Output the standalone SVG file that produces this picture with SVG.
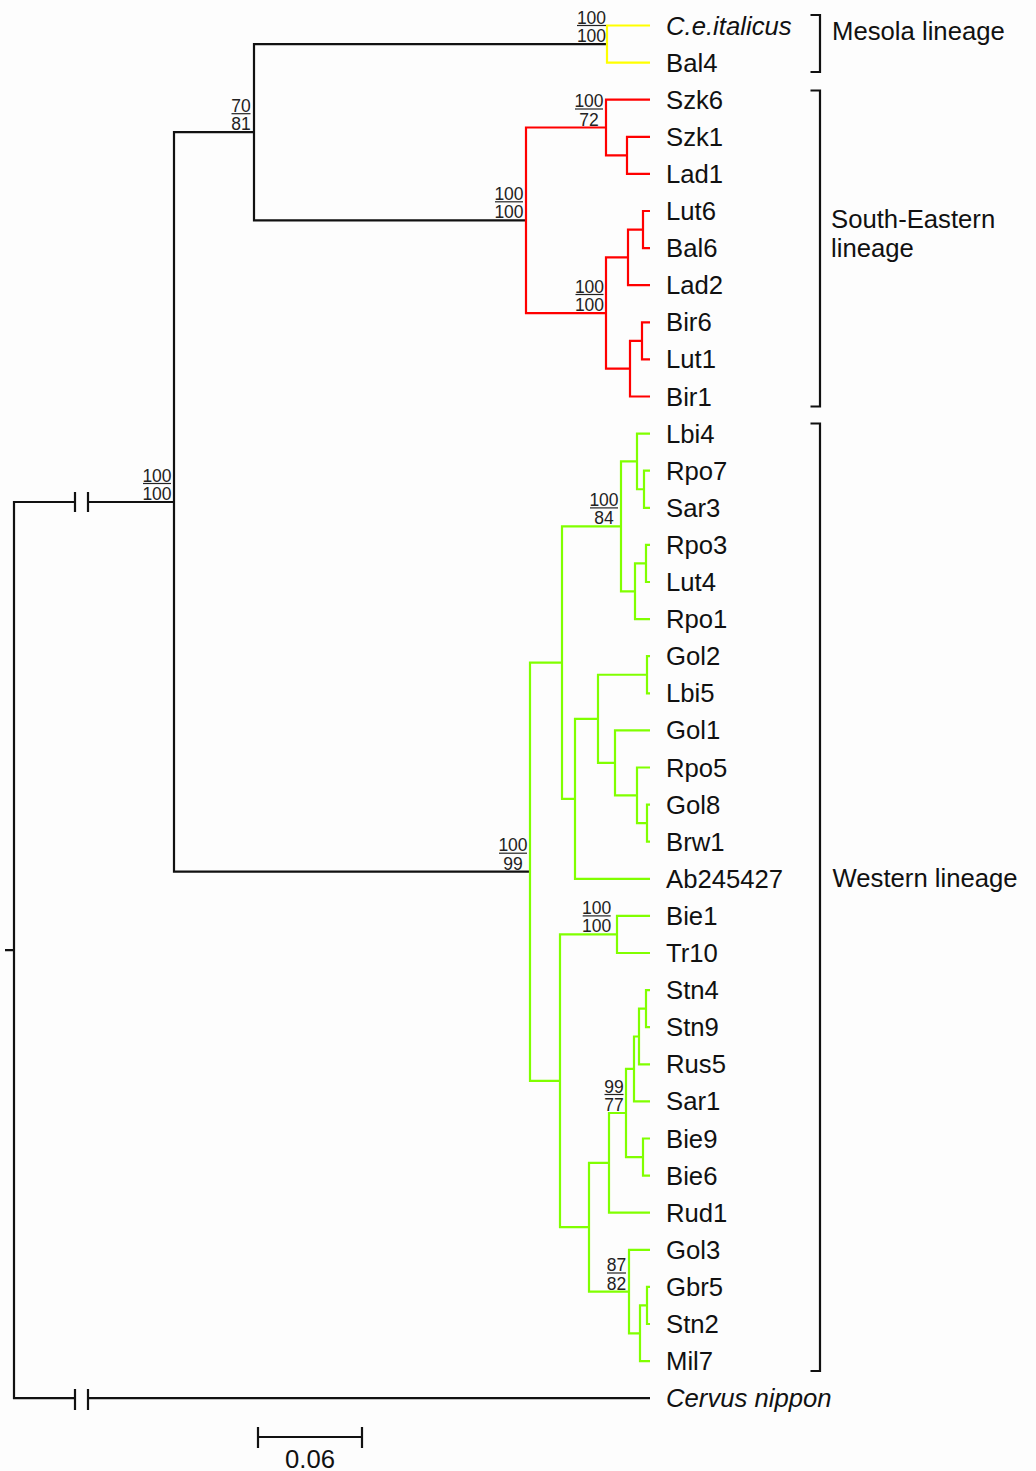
<svg xmlns="http://www.w3.org/2000/svg" width="1036" height="1471" viewBox="0 0 1036 1471">
<style>
.k{fill:none;stroke:#111;stroke-width:2.2;stroke-linejoin:miter}
.y{fill:none;stroke:#ffff00;stroke-width:2.2}
.r{fill:none;stroke:#ff0000;stroke-width:2.2}
.g{fill:none;stroke:#80ff00;stroke-width:2.2}
.lbl{font-family:"Liberation Sans",Arial,sans-serif;font-size:25.7px;fill:#111}
.it{font-style:italic}
.bs{font-family:"Liberation Sans",Arial,sans-serif;font-size:17.5px;fill:#222;text-anchor:middle}
.ul{stroke:#222;stroke-width:1.2}
</style>
<rect width="1036" height="1471" fill="#fdfdfd"/>
<g id="connectors">
<path class="k" d="M75,502 H14 V1398.2 H75 M88,502 H174 M88,1398.2 H650 M5,950.1 H14"/>
<path class="k" d="M75,492 V512 M88,492 V512 M75,1389 V1410 M88,1389 V1410"/>
<path class="k" d="M254,132.2 H174 V871.7 H530"/>
<path class="k" d="M607,44.05 H254 V220.3 H526"/>
<path class="y" d="M650,25.5 H607 V62.6 H650"/>
<path class="r" d="M650,136.8 H627 V173.9 H650"/>
<path class="r" d="M650,99.7 H606 V155.35 H627"/>
<path class="r" d="M650,211 H643 V248.1 H650"/>
<path class="r" d="M643,229.55 H628 V285.2 H650"/>
<path class="r" d="M650,322.3 H642 V359.4 H650"/>
<path class="r" d="M642,340.85 H630 V396.5 H650"/>
<path class="r" d="M628,257.4 H606 V368.7 H630"/>
<path class="r" d="M606,127.5 H526 V313.05 H606"/>
<path class="g" d="M650,470.7 H644 V507.8 H650"/>
<path class="g" d="M650,433.6 H637 V489.25 H644"/>
<path class="g" d="M650,544.9 H646 V582 H650"/>
<path class="g" d="M646,563.45 H635 V619.1 H650"/>
<path class="g" d="M637,461.4 H621 V591.3 H635"/>
<path class="g" d="M650,656.2 H647 V693.3 H650"/>
<path class="g" d="M650,804.6 H647 V841.7 H650"/>
<path class="g" d="M650,767.5 H637 V823.15 H647"/>
<path class="g" d="M650,730.4 H615 V795.3 H637"/>
<path class="g" d="M647,674.75 H598 V762.85 H615"/>
<path class="g" d="M598,718.8 H575 V878.8 H650"/>
<path class="g" d="M621,526.35 H562 V798.8 H575"/>
<path class="g" d="M650,915.9 H617 V953 H650"/>
<path class="g" d="M650,990.1 H646 V1027.2 H650"/>
<path class="g" d="M646,1008.65 H639 V1064.3 H650"/>
<path class="g" d="M639,1036.5 H634 V1101.4 H650"/>
<path class="g" d="M650,1138.5 H643 V1175.6 H650"/>
<path class="g" d="M634,1068.95 H626 V1157.05 H643"/>
<path class="g" d="M626,1113 H609 V1212.7 H650"/>
<path class="g" d="M650,1286.9 H647 V1324 H650"/>
<path class="g" d="M647,1305.45 H640 V1361.1 H650"/>
<path class="g" d="M650,1249.8 H629 V1333.3 H640"/>
<path class="g" d="M609,1162.85 H589 V1291.55 H629"/>
<path class="g" d="M617,934.45 H560 V1227.2 H589"/>
<path class="g" d="M562,662.6 H530 V1080.8 H560"/>
</g>
<g id="leaves" class="lbl">
<g id="leaf-Ceitalicus"><text class="lbl it" x="666" y="34.5">C.e.italicus</text></g>
<g id="leaf-Bal4"><text x="666" y="71.6">Bal4</text></g>
<g id="leaf-Szk6"><text x="666" y="108.7">Szk6</text></g>
<g id="leaf-Szk1"><text x="666" y="145.8">Szk1</text></g>
<g id="leaf-Lad1"><text x="666" y="182.9">Lad1</text></g>
<g id="leaf-Lut6"><text x="666" y="220">Lut6</text></g>
<g id="leaf-Bal6"><text x="666" y="257.1">Bal6</text></g>
<g id="leaf-Lad2"><text x="666" y="294.2">Lad2</text></g>
<g id="leaf-Bir6"><text x="666" y="331.3">Bir6</text></g>
<g id="leaf-Lut1"><text x="666" y="368.4">Lut1</text></g>
<g id="leaf-Bir1"><text x="666" y="405.5">Bir1</text></g>
<g id="leaf-Lbi4"><text x="666" y="442.6">Lbi4</text></g>
<g id="leaf-Rpo7"><text x="666" y="479.7">Rpo7</text></g>
<g id="leaf-Sar3"><text x="666" y="516.8">Sar3</text></g>
<g id="leaf-Rpo3"><text x="666" y="553.9">Rpo3</text></g>
<g id="leaf-Lut4"><text x="666" y="591">Lut4</text></g>
<g id="leaf-Rpo1"><text x="666" y="628.1">Rpo1</text></g>
<g id="leaf-Gol2"><text x="666" y="665.2">Gol2</text></g>
<g id="leaf-Lbi5"><text x="666" y="702.3">Lbi5</text></g>
<g id="leaf-Gol1"><text x="666" y="739.4">Gol1</text></g>
<g id="leaf-Rpo5"><text x="666" y="776.5">Rpo5</text></g>
<g id="leaf-Gol8"><text x="666" y="813.6">Gol8</text></g>
<g id="leaf-Brw1"><text x="666" y="850.7">Brw1</text></g>
<g id="leaf-Ab245427"><text x="666" y="887.8">Ab245427</text></g>
<g id="leaf-Bie1"><text x="666" y="924.9">Bie1</text></g>
<g id="leaf-Tr10"><text x="666" y="962">Tr10</text></g>
<g id="leaf-Stn4"><text x="666" y="999.1">Stn4</text></g>
<g id="leaf-Stn9"><text x="666" y="1036.2">Stn9</text></g>
<g id="leaf-Rus5"><text x="666" y="1073.3">Rus5</text></g>
<g id="leaf-Sar1"><text x="666" y="1110.4">Sar1</text></g>
<g id="leaf-Bie9"><text x="666" y="1147.5">Bie9</text></g>
<g id="leaf-Bie6"><text x="666" y="1184.6">Bie6</text></g>
<g id="leaf-Rud1"><text x="666" y="1221.7">Rud1</text></g>
<g id="leaf-Gol3"><text x="666" y="1258.8">Gol3</text></g>
<g id="leaf-Gbr5"><text x="666" y="1295.9">Gbr5</text></g>
<g id="leaf-Stn2"><text x="666" y="1333">Stn2</text></g>
<g id="leaf-Mil7"><text x="666" y="1370.1">Mil7</text></g>
<g id="leaf-Cervus"><text class="lbl it" x="666" y="1407.2">Cervus nippon</text></g>
</g>
<g id="support-values">
<g id="node-mesola"><text class="bs" x="591.5" y="23.5">100</text><line class="ul" x1="577" y1="25.5" x2="606" y2="25.5"/><text class="bs" x="591.5" y="42">100</text></g>
<g id="node-szk"><text class="bs" x="589" y="107">100</text><line class="ul" x1="575" y1="109" x2="603" y2="109"/><text class="bs" x="589" y="125.5">72</text></g>
<g id="node-se"><text class="bs" x="509" y="199.8">100</text><line class="ul" x1="495" y1="201.8" x2="523" y2="201.8"/><text class="bs" x="509" y="218.3">100</text></g>
<g id="node-se-lower"><text class="bs" x="589.5" y="292.5">100</text><line class="ul" x1="575.5" y1="294.5" x2="603.5" y2="294.5"/><text class="bs" x="589.5" y="311">100</text></g>
<g id="node-mesola-se"><text class="bs" x="241" y="111.7">70</text><line class="ul" x1="231.5" y1="113.7" x2="250.5" y2="113.7"/><text class="bs" x="241" y="130.2">81</text></g>
<g id="node-ingroup"><text class="bs" x="157" y="481.5">100</text><line class="ul" x1="143" y1="483.5" x2="171" y2="483.5"/><text class="bs" x="157" y="500">100</text></g>
<g id="node-w-a1"><text class="bs" x="604" y="505.9">100</text><line class="ul" x1="590" y1="507.9" x2="618" y2="507.9"/><text class="bs" x="604" y="524.4">84</text></g>
<g id="node-western"><text class="bs" x="513" y="851.2">100</text><line class="ul" x1="499" y1="853.2" x2="527" y2="853.2"/><text class="bs" x="513" y="869.7">99</text></g>
<g id="node-bie-tr"><text class="bs" x="596.7" y="913.9">100</text><line class="ul" x1="582.7" y1="915.9" x2="610.7" y2="915.9"/><text class="bs" x="596.7" y="932.4">100</text></g>
<g id="node-stn"><text class="bs" x="614" y="1092.5">99</text><line class="ul" x1="604.5" y1="1094.5" x2="623.5" y2="1094.5"/><text class="bs" x="614" y="1111">77</text></g>
<g id="node-gol3"><text class="bs" x="616.5" y="1271">87</text><line class="ul" x1="607" y1="1273" x2="626" y2="1273"/><text class="bs" x="616.5" y="1289.5">82</text></g>
</g>
<g id="lineages">
<g id="mesola-lineage"><path class="k" d="M810.5,15 H820 V72 H810.5"/><text class="lbl" x="832" y="40">Mesola lineage</text></g>
<g id="south-eastern-lineage"><path class="k" d="M810.5,90.5 H820 V406.5 H810.5"/><text class="lbl" x="831" y="228">South-Eastern</text><text class="lbl" x="831" y="256.5">lineage</text></g>
<g id="western-lineage"><path class="k" d="M810.5,423.5 H820 V1371 H810.5"/><text class="lbl" x="832.5" y="887">Western lineage</text></g>
</g>
<g id="scale-bar">
<path class="k" d="M258,1437 H362 M258,1427 V1448 M362,1427 V1448"/>
<text class="lbl" x="310" y="1467.5" text-anchor="middle">0.06</text>
</g>
</svg>
